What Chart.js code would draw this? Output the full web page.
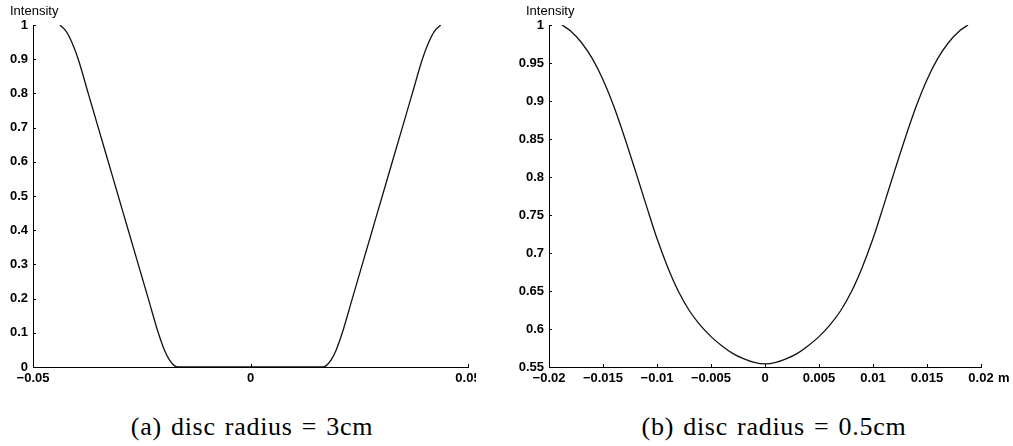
<!DOCTYPE html>
<html>
<head>
<meta charset="utf-8">
<script src="https://cdn.jsdelivr.net/npm/chart.js@4.4.1/dist/chart.umd.min.js"></script>
<style>
  body { margin: 0; background: #fff; width: 1013px; height: 446px; overflow: hidden; position: relative; }
  #wrapA { position: absolute; left: 0; top: 0; width: 476px; height: 400px; overflow: hidden; }
  #wrapB { position: absolute; left: 500px; top: 0; width: 513px; height: 400px; }
  .caption { position: absolute; top: 412px; width: 400px; text-align: center;
             font-family: "Liberation Serif", serif; font-size: 26px; letter-spacing: 0.7px;
             word-spacing: 2px; color: #000; }
</style>
</head>
<body>
<div id="wrapA"><canvas id="chartA" width="500" height="400"></canvas></div>
<div id="wrapB"><canvas id="chartB" width="513" height="400"></canvas></div>
<div class="caption" style="left:52px">(a) disc radius = 3cm</div>
<div class="caption" style="left:574px">(b) disc radius = 0.5cm</div>

<script>
// (a) disc radius = 3cm
const posA = [-0.0438, -0.0423, -0.0411, -0.0396, -0.0373, -0.0350, -0.0327, -0.0304,
  -0.0281, -0.0258, -0.0235, -0.0212, -0.0198, -0.0186, -0.0175, -0.0167, -0.0080, 0, 0.0080,
  0.0166, 0.0174, 0.0185, 0.0197, 0.0211, 0.0234, 0.0257, 0.0280, 0.0303,
  0.0326, 0.0349, 0.0372, 0.0395, 0.0410, 0.0422, 0.0437];
const intensityA = [1, 0.98, 0.95, 0.9, 0.8, 0.7, 0.6, 0.5,
  0.4, 0.3, 0.2, 0.1, 0.05, 0.02, 0.004, 0, 0, 0, 0,
  0, 0.004, 0.02, 0.05, 0.1, 0.2, 0.3, 0.4, 0.5,
  0.6, 0.7, 0.8, 0.9, 0.95, 0.98, 1];

// (b) disc radius = 0.5cm
const posB = [-0.0188, -0.018, -0.017, -0.016, -0.015, -0.014, -0.013, -0.012, -0.011, -0.010,
  -0.009, -0.008, -0.007, -0.006, -0.005, -0.004, -0.003, -0.002, -0.001, 0,
  0.001, 0.002, 0.003, 0.004, 0.005, 0.006, 0.007, 0.008, 0.009, 0.010,
  0.011, 0.012, 0.013, 0.014, 0.015, 0.016, 0.017, 0.018, 0.0188];
const intensityB = [1, 0.992, 0.977, 0.956, 0.928, 0.893, 0.852, 0.808, 0.763, 0.719,
  0.681, 0.649, 0.624, 0.605, 0.590, 0.578, 0.568, 0.561, 0.556, 0.554,
  0.556, 0.561, 0.568, 0.578, 0.590, 0.605, 0.624, 0.649, 0.681, 0.719,
  0.763, 0.808, 0.852, 0.893, 0.928, 0.956, 0.977, 0.992, 1];

const xTicksA = { min: -0.05, max: 0.05, step: 0.05 };
const yTicksA = { min: 0, max: 1, step: 0.1 };
const xTicksB = { min: -0.02, max: 0.02, step: 0.005 };
const yTicksB = { min: 0.55, max: 1, step: 0.05 };

const FONT = "Liberation Sans, Arial, sans-serif";
const TICK_FONT = { family: FONT, size: 13, weight: "bold" };

function fmt(v) {
  return String(Number(v.toFixed(4))).replace("-", "\u2212");
}

// inward tick marks + "Intensity" / unit labels
const axisText = {
  id: "axisText",
  afterDraw(chart, args, opts) {
    const { ctx, chartArea: a, scales } = chart;
    ctx.save();
    ctx.strokeStyle = "#000";
    ctx.lineWidth = 1;
    ctx.beginPath();
    scales.x.ticks.forEach(t => {
      const px = Math.round(scales.x.getPixelForValue(t.value)) + 0.5;
      ctx.moveTo(px, a.bottom);
      ctx.lineTo(px, a.bottom - 3);
    });
    scales.y.ticks.forEach(t => {
      const py = Math.round(scales.y.getPixelForValue(t.value)) + 0.5;
      ctx.moveTo(a.left, py);
      ctx.lineTo(a.left + 3, py);
    });
    ctx.stroke();

    ctx.fillStyle = "#000";
    ctx.font = "13px " + FONT;
    ctx.textBaseline = "middle";
    ctx.textAlign = "left";
    ctx.fillText(opts.yLabel, a.left - 23, 11);
    if (opts.xUnit) {
      ctx.font = "bold 13px " + FONT;
      ctx.fillText(opts.xUnit, a.right + 17, a.bottom + 11);
    }
    ctx.restore();
  }
};

function makeChart(id, xs, ys, xt, yt, yWidth, unit) {
  const axis = (t, pad) => ({
    type: "linear",
    min: t.min,
    max: t.max,
    grid: { display: true, drawOnChartArea: false, drawTicks: false },
    border: { display: true, color: "#000", width: 1 },
    ticks: {
      stepSize: t.step,
      color: "#000",
      font: TICK_FONT,
      padding: pad,
      maxRotation: 0,
      autoSkip: false,
      callback: v => fmt(v)
    }
  });

  const x = axis(xt, 4);
  x.afterFit = s => { s.height = 33; };
  const y = axis(yt, 5);
  y.afterFit = s => { s.width = yWidth; };

  return new Chart(document.getElementById(id), {
    type: "line",
    data: {
      datasets: [{
        data: xs.map((v, i) => ({ x: v, y: ys[i] })),
        borderColor: "#111",
        borderWidth: 1.3,
        pointRadius: 0,
        cubicInterpolationMode: "monotone",
        fill: false
      }]
    },
    options: {
      responsive: false,
      animation: false,
      layout: { padding: { left: 0, top: 25, right: 32, bottom: 0 } },
      scales: { x, y },
      plugins: {
        legend: { display: false },
        tooltip: { enabled: false },
        axisText: { yLabel: "Intensity", xUnit: unit }
      }
    },
    plugins: [axisText]
  });
}

makeChart("chartA", posA, intensityA, xTicksA, yTicksA, 33, null);
makeChart("chartB", posB, intensityB, xTicksB, yTicksB, 49, "m");
</script>
</body>
</html>
